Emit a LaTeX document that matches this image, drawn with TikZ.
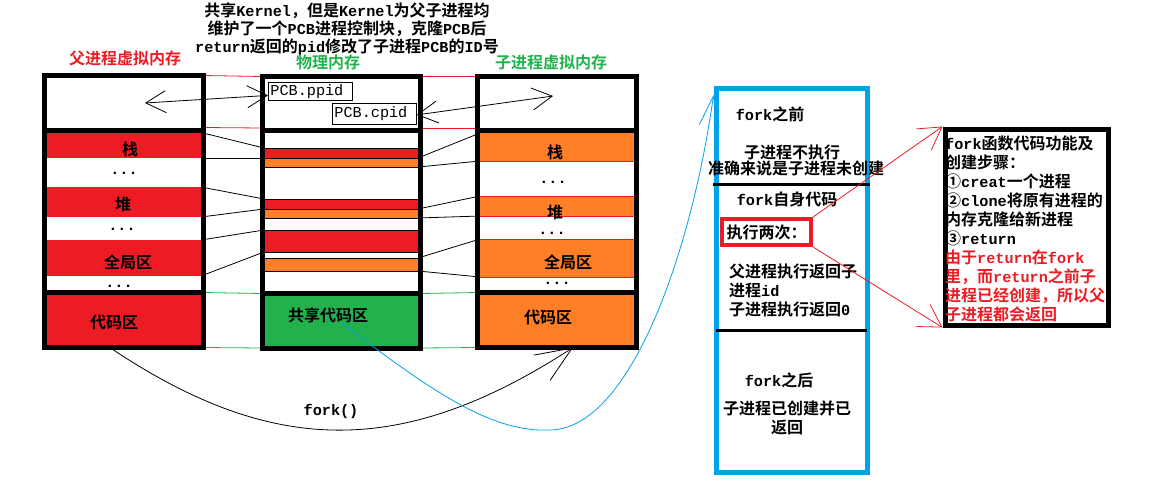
\documentclass[tikz,border=0pt]{standalone}
\usepackage{fontspec}
\setmainfont{Noto Sans CJK SC}[BoldFont={Noto Sans CJK SC Bold}]
\newfontfamily\latnf{Liberation Mono}[Scale=0.95]
\newcommand\latn[1]{{\latnf #1}}
\usetikzlibrary{arrows.meta}
\definecolor{pred}{RGB}{237,28,36}
\definecolor{porange}{RGB}{255,127,39}
\definecolor{pgreen}{RGB}{34,177,76}
\definecolor{pblue}{RGB}{0,162,232}
\pgfdeclarelayer{back}
\pgfsetlayers{back,main}
\begin{document}
\begin{tikzpicture}[x=1pt,y=-1pt,
  frame/.style={draw=black,line width=5pt,inner sep=0pt,outer sep=0pt,anchor=north west},
  region/.style={inner sep=0pt,outer sep=0pt,anchor=north west,minimum width=154pt},
  stripe/.style={region,draw=black,line width=0.8pt},
  cregion/.style={region,fill=porange},
  txt/.style={font=\fontsize{16}{19}\selectfont\bfseries,inner sep=0pt},
  thin/.style={line width=0.8pt},
  barbs/.style={{Straight Barb[length=20pt,width=22pt]}-{Straight Barb[length=20pt,width=22pt]}},
]
\useasboundingbox (0,0) rectangle (1161,488);

% ---------- regions (fills) ----------
\node[region,fill=pred,minimum height=25.5pt] (Ls) at (47,132.5) {};
\node[region,fill=pred,minimum height=30pt] (Lh) at (47,187) {};
\node[region,fill=pred,minimum height=36pt] (Lg) at (47,240) {};
\node[region,fill=pred,minimum height=50pt] (Lc) at (47,295) {};

\node[stripe,fill=pred,minimum height=10pt] (Mr1) at (264,148) {};
\node[stripe,fill=porange,minimum height=9pt] (Mo1) at (264,158) {};
\node[stripe,fill=pred,minimum height=10pt] (Mr2) at (264,199) {};
\node[stripe,fill=porange,minimum height=9pt] (Mo2) at (264,209) {};
\node[stripe,fill=pred,minimum height=22pt] (Mr3) at (264,230) {};
\node[stripe,fill=porange,minimum height=13pt] (Mo3) at (264,258) {};
\node[region,fill=pgreen,minimum height=50pt] (Mg) at (264,296) {};

\node[cregion,minimum height=28pt] (Cs) at (480,133) {};
\node[cregion,minimum height=20pt] (Ch) at (480,196) {};
\node[cregion,minimum height=38pt] (Cg) at (480,239) {};
\node[region,fill=porange,minimum height=50pt] (Cc) at (480,295) {};
\draw[pred,thin] (Cs.south west) -- (Cs.south east);
\draw[pred,thin] (Ch.north west) -- (Ch.north east);
\draw[pred,thin] (Ch.south west) -- (Ch.south east);
\draw[pred,thin] (Cg.north west) -- (Cg.north east);
\draw[pred,thin] (Cg.south west) -- (Cg.south east);

% ---------- frames ----------
\node[frame,minimum width=158.5pt,minimum height=54.5pt] (Lt) at (44.5,75.5) {};
\node[frame,minimum width=158.5pt,minimum height=162.5pt] (Lm) at (44.5,130) {};
\node[frame,minimum width=158.5pt,minimum height=55pt] (Lb) at (44.5,292.5) {};
\node[frame,minimum width=158.5pt,minimum height=54pt] (Mt) at (262,76.5) {};
\node[frame,minimum width=158.5pt,minimum height=163pt] (Mm) at (262,130.5) {};
\node[frame,minimum width=158.5pt,minimum height=54.5pt] (Mb) at (262,293.5) {};
\node[frame,minimum width=159pt,minimum height=54pt] (Ct) at (477.5,76.5) {};
\node[frame,minimum width=159pt,minimum height=162pt] (Cm) at (477.5,130.5) {};
\node[frame,minimum width=159pt,minimum height=55pt] (Cb) at (477.5,292.5) {};

% ---------- connectors behind ----------
\begin{pgfonlayer}{back}
  \draw[thin] (Ls.north east) -- (Mr1.north west);
  \draw[thin] (Ls.south east) -- (Mr1.south west);
  \draw[thin] (Lh.north east) -- (Mr2.north west);
  \draw[thin] (Lh.south east) -- (Mr2.south west);
  \draw[thin] (Lg.north east) -- (Mr3.north west);
  \draw[thin] (Lg.south east) -- (Mr3.south west);
  \draw[thin] (Mo1.north east) -- (Cs.north west);
  \draw[thin] (Mo1.south east) -- (Cs.south west);
  \draw[thin] (Mo2.north east) -- (Ch.north west);
  \draw[thin] (Mo2.south east) -- (Ch.south west);
  \draw[thin] (Mo3.north east) -- (Cg.north west);
  \draw[thin] (Mo3.south east) -- (Cg.south west);
  \draw[thin,pred] (Lt.north east) -- (Mt.north west);
  \draw[thin,pred] ([yshift=2.5pt]Lt.south east) -- ([yshift=2.5pt]Mt.south west);
  \draw[thin,pred] (Mt.north east) -- (Ct.north west);
  \draw[thin,pred] ([yshift=2.5pt]Mt.south east) -- ([yshift=2.5pt]Ct.south west);
  \draw[thin,pgreen] (Lb.north east) -- (Mb.north west);
  \draw[thin,pgreen] (Lb.south east) -- (Mb.south west);
  \draw[thin,pgreen] (Mb.north east) -- (Cb.north west);
  \draw[thin,pgreen] (Mb.south east) -- (Cb.south west);
\end{pgfonlayer}

% ---------- headings ----------
\node[txt,align=center,font=\fontsize{16}{18}\selectfont\bfseries] (head) at (347,29.5)
  {共享\latn{Kernel}，但是\latn{Kernel}为父子进程均\\维护了一个\latn{PCB}进程控制块，克隆\latn{PCB}后\\\latn{return}返回的\latn{pid}修改了子进程\latn{PCB}的\latn{ID}号};
\node[txt,text=pred] (hl) at (125,58) {父进程虚拟内存};
\node[txt,text=pgreen] (hm) at (328,62) {物理内存};
\node[txt,text=pgreen] (hr) at (551,62) {子进程虚拟内存};

% ---------- region labels ----------
\node[txt] (tLs) at (130,149) {栈};
\node[txt] (dL1) at (124,173) {\latn{...}};
\node[txt] (tLh) at (123,204) {堆};
\node[txt] (dL2) at (122,229) {\latn{...}};
\node[txt] (tLg) at (128,262) {全局区};
\node[txt] (dL3) at (119,286) {\latn{...}};
\node[txt] (tLc) at (114,322) {代码区};
\node[txt] (tMg) at (328,315) {共享代码区};
\node[txt] (tCs) at (555,152) {栈};
\node[txt] (dC1) at (553,182) {\latn{...}};
\node[txt] (tCh) at (555,212) {堆};
\node[txt] (dC2) at (552,233) {\latn{...}};
\node[txt] (tCg) at (568,262) {全局区};
\node[txt] (dC3) at (557,283) {\latn{...}};
\node[txt] (tCc) at (548,317) {代码区};

% ---------- PCB boxes and arrows ----------
\node[draw,thin,anchor=north west,inner xsep=2pt,inner ysep=0pt,text width=80pt,align=left,minimum height=18pt,font=\fontsize{16}{18}\selectfont] (ppid) at (268,82) {\latn{PCB.ppid}};
\node[draw,thin,anchor=north west,inner xsep=2pt,inner ysep=0pt,text width=80pt,align=left,minimum height=21pt,font=\fontsize{16}{18}\selectfont] (cpid) at (332,103) {\latn{PCB.cpid}};
\coordinate (pa) at (145,103);
\coordinate (pb) at (553,96);
\draw[thin,barbs] (pa) -- ([yshift=-4pt]ppid.west);
\draw[thin,barbs] ([yshift=-1pt]cpid.east) -- (pb);

% ---------- fork() arc ----------
\draw[thin,-{Straight Barb[length=36pt,width=30pt]}] ([xshift=-14pt]Lb.south) .. controls (270,455) and (400,460) .. ([xshift=16pt]Cb.south);
\node[txt] (fk) at (331,411) {\latn{fork()}};

% ---------- blue box ----------
\node[draw=pblue,line width=5pt,inner sep=0pt,outer sep=0pt,anchor=north west,minimum width=151pt,minimum height=384pt] (bb) at (716.5,88) {};
\draw[line width=3pt] (713,184) -- (870,184);
\draw[line width=3pt] (716,330) -- (867,330);
\node[txt] (b1) at (770,114) {\latn{fork}之前};
\node[txt] (b2) at (792,152) {子进程不执行};
\node[txt] (b3) at (796,168) {准确来说是子进程未创建};
\node[txt] (b4) at (787,199) {\latn{fork}自身代码};
\node[txt,draw=pred,line width=4pt,minimum width=89pt,minimum height=26pt] (twice) at (766.5,232) {执行两次：};
\node[txt,anchor=west,align=left] (b5) at (729,290) {父进程执行返回子\\进程\latn{id}\\子进程执行返回\latn{0}};
\node[txt] (b6) at (779,380) {\latn{fork}之后};
\node[txt,align=center] (b7) at (787,417.5) {子进程已创建并已\\返回};

\draw[pblue,thin,-{Straight Barb[length=30pt,width=20pt]}] ([yshift=-2pt]Mb.center) .. controls (430,390) and (490,432) .. (548,430) .. controls (630,432) and (692,250) .. ([xshift=-3pt,yshift=-7pt]bb.north west);

% ---------- right box ----------
\node[draw,line width=5pt,inner sep=0pt,anchor=north west,minimum width=163.5pt,minimum height=196pt] (rb) at (942.5,126.5) {};
\node[txt,anchor=west,align=left] (rbt) at (945,228.5)
  {\latn{fork}函数代码功能及\\创建步骤：\\①\latn{creat}一个进程\\②\latn{clone}将原有进程的\\内存克隆给新进程\\③\latn{return}\\\textcolor{pred}{由于\latn{return}在\latn{fork}}\\\textcolor{pred}{里，而\latn{return}之前子}\\\textcolor{pred}{进程已经创建，所以父}\\\textcolor{pred}{子进程都会返回}};
\draw[pred,thin,-{Straight Barb[length=22pt,width=26pt]}] (twice.north east) -- (rb.north west);
\draw[pred,thin,-{Straight Barb[length=22pt,width=26pt]}] (twice.south east) -- (rb.south west);
\end{tikzpicture}
\end{document}
